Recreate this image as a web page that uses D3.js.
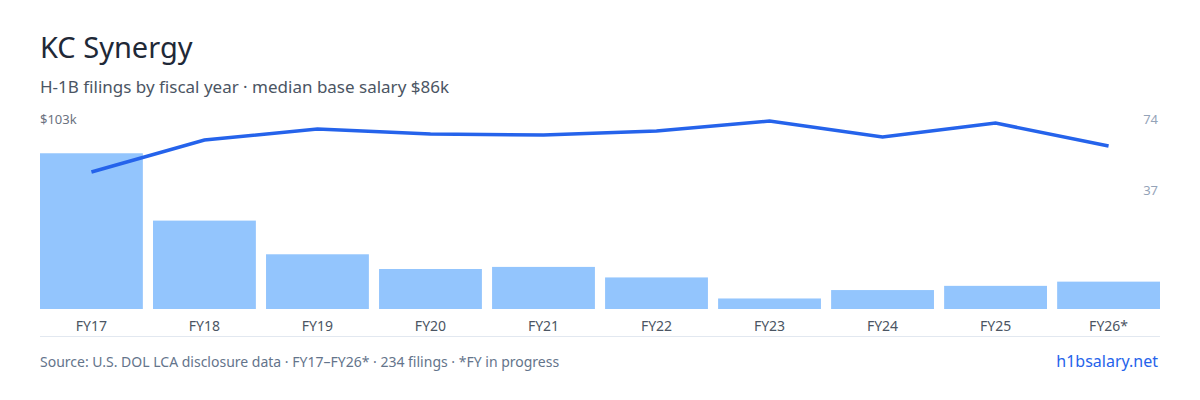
<!DOCTYPE html>
<html><head><meta charset="utf-8">
<script src="https://cdn.jsdelivr.net/npm/d3@7"></script>
<style>body{margin:0;background:#fff;font-family:"Noto Sans",sans-serif}</style>
</head><body><svg id="c" width="1200" height="400"></svg>
<script>
const years=["FY17","FY18","FY19","FY20","FY21","FY22","FY23","FY24","FY25","FY26*"];
const filings=[74,42,26,19,20,15,5,9,11,13];
const salary=[74.3,91.6,97.6,94.9,94.3,96.5,101.9,93.2,100.8,88.4];
const rightTicks=[74,37];
const svg=d3.select("#c");
const L=40,R=1160,T=119,B=309;
const x=d3.scaleBand().domain(years).range([L,R]).paddingInner(0.09).paddingOuter(0);
const yB=d3.scaleLinear().domain([0,74*1.22]).range([B,T]);
const yS=d3.scaleLinear().domain([0,103]).range([B,T]);
svg.append("text").attr("x",40).attr("y",58).attr("font-size",29).attr("fill","#1f2937").text("KC Synergy");
svg.append("text").attr("x",40).attr("y",93).attr("font-size",17).attr("fill","#4b5563").text("H-1B filings by fiscal year · median base salary $86k");
svg.append("text").attr("x",40).attr("y",124).attr("font-size",13).attr("fill","#6b7280").text("$103k");
svg.append("text").attr("x",1158).attr("y",124).attr("text-anchor","end").attr("font-size",13).attr("fill","#94a3b8").text(rightTicks[0]);
svg.append("text").attr("x",1158).attr("y",195).attr("text-anchor","end").attr("font-size",13).attr("fill","#94a3b8").text(rightTicks[1]);
svg.selectAll("rect.b").data(filings).join("rect").attr("x",(d,i)=>x(years[i])).attr("width",x.bandwidth())
 .attr("y",d=>yB(d)).attr("height",d=>B-yB(d)).attr("fill","#93c5fd");
svg.append("path").datum(salary).attr("fill","none").attr("stroke","#2563eb").attr("stroke-width",3.5)
 .attr("d",d3.line().x((d,i)=>x(years[i])+x.bandwidth()/2).y(d=>yS(d)));
svg.append("line").attr("x1",L).attr("x2",R).attr("y1",336.5).attr("y2",336.5).attr("stroke","#e2e8f0");
svg.selectAll("text.x").data(years).join("text").attr("x",d=>x(d)+x.bandwidth()/2).attr("y",331)
 .attr("text-anchor","middle").attr("font-size",14).attr("fill","#4b5563").text(d=>d);
svg.append("text").attr("x",40).attr("y",367).attr("font-size",14).attr("fill","#64748b").text("Source: U.S. DOL LCA disclosure data · FY17–FY26* · 234 filings · *FY in progress");
svg.append("text").attr("x",1158).attr("y",367).attr("text-anchor","end").attr("font-size",16).attr("fill","#2563eb").text("h1bsalary.net");
</script></body></html>
